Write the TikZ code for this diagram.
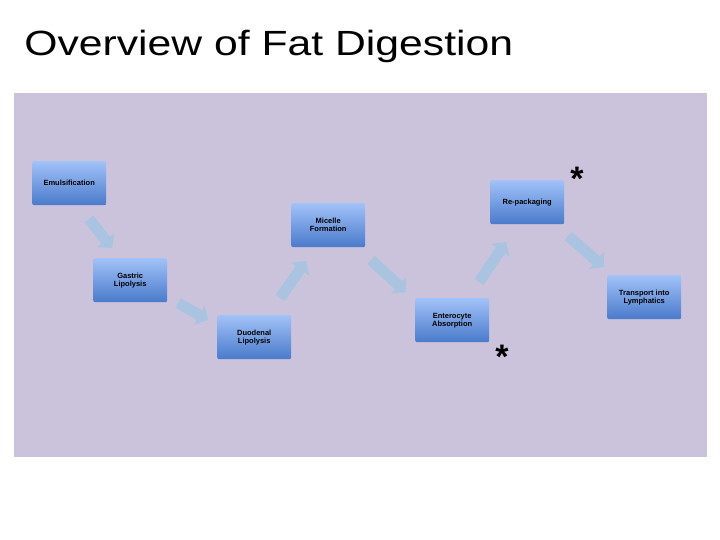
\documentclass[tikz,border=0pt]{standalone}
\usepackage{fontspec}
\setmainfont{Liberation Sans}
\usetikzlibrary{arrows.meta}
\definecolor{bg}{HTML}{CBC3DC}
\definecolor{btop}{HTML}{A2C2F8}
\definecolor{bbot}{HTML}{4A7ACB}
\definecolor{arr}{HTML}{A9C3E0}
\tikzset{
 stepbox/.style={minimum width=74pt,minimum height=44pt,rounded corners=2pt,
   top color=btop,bottom color=bbot,draw=none,align=center,
   font=\fontsize{7.5}{8}\selectfont\bfseries,inner sep=1pt,anchor=north west},
 flow/.style={arr,line width=11pt,-{Triangle[width=22pt,length=10pt]}},
 star/.style={font=\fontsize{34}{34}\selectfont\bfseries}
}
\begin{document}
\begin{tikzpicture}[x=1pt,y=-1pt]
\useasboundingbox (0,0) rectangle (720,540);
\fill[white] (0,0) rectangle (720,540);
\node[anchor=west,font=\fontsize{35}{36}\selectfont,xscale=1.22] (title) at (20,46) {Overview of Fat Digestion};
\fill[bg] (14,93) rectangle (707,457);
\node[stepbox] (emu) at (32,161) {Emulsification};
\node[stepbox] (gas) at (93,258) {Gastric\\Lipolysis};
\node[stepbox] (duo) at (217,315) {Duodenal\\Lipolysis};
\node[stepbox] (mic) at (291,203) {Micelle\\Formation};
\node[stepbox] (ent) at (415,298) {Enterocyte\\Absorption};
\node[stepbox] (rep) at (490,180) {Re-packaging};
\node[stepbox] (tra) at (607,275) {Transport into\\Lymphatics};
\node[star] (s1) at (577,179) {*};
\node[star] (s2) at (502,357) {*};
\coordinate (a1) at (89,219); \coordinate (b1) at (112,248);
\coordinate (a2) at (178,303); \coordinate (b2) at (208,320);
\coordinate (a3) at (280,298); \coordinate (b3) at (306,261);
\coordinate (a4) at (371,260); \coordinate (b4) at (406,292);
\coordinate (a5) at (479,282); \coordinate (b5) at (506,242);
\coordinate (a6) at (568,236); \coordinate (b6) at (604,267);
\foreach \i in {1,...,6} \draw[flow] (a\i) -- (b\i);
\end{tikzpicture}
\end{document}
